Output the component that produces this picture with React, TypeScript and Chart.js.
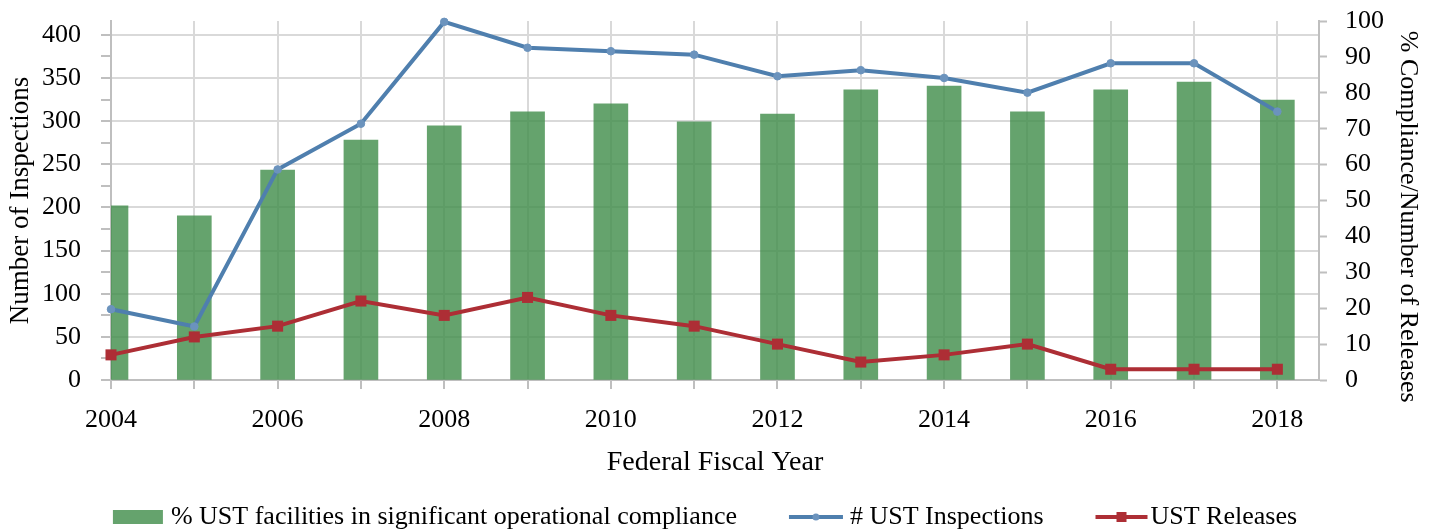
import React, { useEffect, useRef } from 'react';
import { Chart, registerables } from 'chart.js';

Chart.register(...registerables);

// ---- Data ----
const years = [2004, 2005, 2006, 2007, 2008, 2009, 2010, 2011, 2012, 2013, 2014, 2015, 2016, 2017, 2018];
const compliancePct = [48.5, 45.7, 58.5, 66.8, 70.8, 74.7, 76.9, 71.9, 74.1, 80.8, 81.9, 74.7, 80.8, 83.0, 78.0];
const inspections = [82, 62, 244, 297, 415, 385, 381, 377, 352, 359, 350, 333, 367, 367, 311];
const releases = [7, 12, 15, 22, 18, 23, 18, 15, 10, 5, 7, 10, 3, 3, 3];

const seriesLabels = [
  '% UST facilities in significant operational compliance',
  '# UST Inspections',
  'UST Releases',
];
const xTitle = 'Federal Fiscal Year';
const yLeftTitle = 'Number of Inspections';
const yRightTitle = '% Compliance/Number of Releases';

// ---- Styles ----
const FONT = "'Liberation Serif', 'Times New Roman', serif";
const FS = 26;
const GREEN = 'rgba(62,140,72,0.8)';
const BLUE = '#4f7fae';
const BLUE_PT = '#6b93bd';
const RED = '#ad2e35';
const GRID = '#d9d9d9';
const AXIS = '#bfbfbf';
const TEXT = '#000000';

const legendPlugin = {
  id: 'customLegend',
  afterDraw(chart: any) {
    const ctx = chart.ctx as CanvasRenderingContext2D;
    ctx.save();
    ctx.font = `${FS}px ${FONT}`;
    ctx.textBaseline = 'middle';
    ctx.textAlign = 'left';
    const y = chart.height - 14;
    const markerW = [50, 54, 52];
    const gapText = [8, 7, 3];
    const gapItem = 52;
    const widths = seriesLabels.map((t, i) => markerW[i] + gapText[i] + ctx.measureText(t).width);
    const total = widths.reduce((a, b) => a + b, 0) + gapItem * (widths.length - 1);
    let x = 705 - total / 2;
    seriesLabels.forEach((t, i) => {
      if (i === 0) {
        ctx.fillStyle = GREEN;
        ctx.fillRect(x, y - 7, markerW[i], 14);
      } else {
        const col = i === 1 ? BLUE : RED;
        ctx.strokeStyle = col;
        ctx.lineWidth = 4;
        ctx.beginPath();
        ctx.moveTo(x, y);
        ctx.lineTo(x + markerW[i], y);
        ctx.stroke();
        const cx = x + markerW[i] / 2;
        if (i === 1) {
          ctx.fillStyle = BLUE_PT;
          ctx.beginPath();
          ctx.arc(cx, y, 3.5, 0, Math.PI * 2);
          ctx.fill();
        } else {
          ctx.fillStyle = RED;
          ctx.fillRect(cx - 5, y - 5, 10, 10);
        }
      }
      ctx.fillStyle = TEXT;
      ctx.fillText(t, x + markerW[i] + gapText[i], y);
      x += widths[i] + gapItem;
    });
    ctx.restore();
  },
};

export default function App() {
  const ref = useRef<HTMLCanvasElement>(null);

  useEffect(() => {
    const font = { family: FONT, size: FS };
    const chart = new Chart(ref.current as HTMLCanvasElement, {
      type: 'bar',
      data: {
        datasets: [
          {
            type: 'bar',
            label: seriesLabels[0],
            data: years.map((x, i) => ({ x, y: compliancePct[i] })),
            backgroundColor: GREEN,
            borderWidth: 0,
            barThickness: 34,
            xAxisID: 'x',
            yAxisID: 'y1',
            order: 3,
          },
          {
            type: 'line',
            label: seriesLabels[1],
            data: years.map((x, i) => ({ x, y: inspections[i] })),
            borderColor: BLUE,
            borderWidth: 4,
            pointRadius: 3.8,
            pointBackgroundColor: BLUE_PT,
            pointBorderColor: BLUE_PT,
            pointBorderWidth: 1,
            tension: 0,
            xAxisID: 'x',
            yAxisID: 'y',
            order: 2,
            clip: false,
          },
          {
            type: 'line',
            label: seriesLabels[2],
            data: years.map((x, i) => ({ x, y: releases[i] })),
            borderColor: RED,
            borderWidth: 4,
            pointStyle: 'rect',
            pointRadius: 7.8,
            pointBackgroundColor: RED,
            pointBorderColor: RED,
            pointBorderWidth: 0,
            tension: 0,
            xAxisID: 'x',
            yAxisID: 'y1',
            order: 1,
            clip: false,
          },
        ],
      } as any,
      options: {
        responsive: false,
        maintainAspectRatio: false,
        animation: false,
        devicePixelRatio: 1,
        layout: { padding: { top: 21, bottom: 45, left: 0, right: 0 } },
        plugins: {
          legend: { display: false },
          tooltip: { enabled: false },
        },
        scales: {
          x: {
            type: 'linear',
            position: 'bottom',
            min: 2004,
            max: 2018.5,
            offset: false,
            ticks: {
              stepSize: 1,
              autoSkip: false,
              maxRotation: 0,
              minRotation: 0,
              includeBounds: false,
              padding: 16,
              color: TEXT,
              font,
              callback: (v: any) => (Number(v) % 2 === 0 ? String(v) : ''),
            },
            grid: { offset: false, color: GRID, lineWidth: 2, tickColor: AXIS, tickLength: 9, tickWidth: 2 },
            border: { color: AXIS, width: 2 },
            title: { display: true, text: xTitle, color: TEXT, font: { family: FONT, size: 28 }, padding: { top: 0, bottom: 7 } },
            afterFit: (s: any) => {
              s.height = 106;
            },
          },
          y: {
            type: 'linear',
            position: 'left',
            min: 0,
            max: 416,
            ticks: {
              stepSize: 25,
              autoSkip: false,
              includeBounds: false,
              padding: 20,
              color: TEXT,
              font,
              callback: (v: any) => (Number(v) % 50 === 0 ? String(v) : ''),
            },
            grid: {
              color: (c: any) => (c.tick && c.tick.value % 50 === 0 ? GRID : 'rgba(0,0,0,0)'),
              lineWidth: 2,
              tickColor: AXIS,
              tickLength: 10,
              tickWidth: 2,
            },
            border: { color: AXIS, width: 2 },
            title: { display: true, text: yLeftTitle, color: TEXT, font: { family: FONT, size: 27 }, padding: { top: 5, bottom: 0 } },
            afterFit: (s: any) => {
              s.width = 111;
              s.paddingTop = 0;
              s.paddingBottom = 0;
            },
          },
          y1: {
            type: 'linear',
            position: 'right',
            min: 0,
            max: 100,
            ticks: {
              stepSize: 10,
              autoSkip: false,
              padding: 18,
              color: TEXT,
              font,
            },
            grid: { drawOnChartArea: false, tickColor: AXIS, tickLength: 8, tickWidth: 2, color: AXIS },
            border: { color: AXIS, width: 2 },
            title: { display: true, text: '     ' + yRightTitle, color: TEXT, font, padding: { top: 9, bottom: 0 } },
            afterFit: (s: any) => {
              s.width = 113;
              s.paddingTop = 0;
              s.paddingBottom = 0;
            },
          },
        },
      } as any,
      plugins: [legendPlugin],
    });
    return () => chart.destroy();
  }, []);

  return (
    <div style={{ position: 'absolute', left: 0, top: 0, width: 1432, height: 531, background: '#fff' }}>
      <canvas ref={ref} width={1432} height={531} style={{ display: 'block' }} />
    </div>
  );
}
